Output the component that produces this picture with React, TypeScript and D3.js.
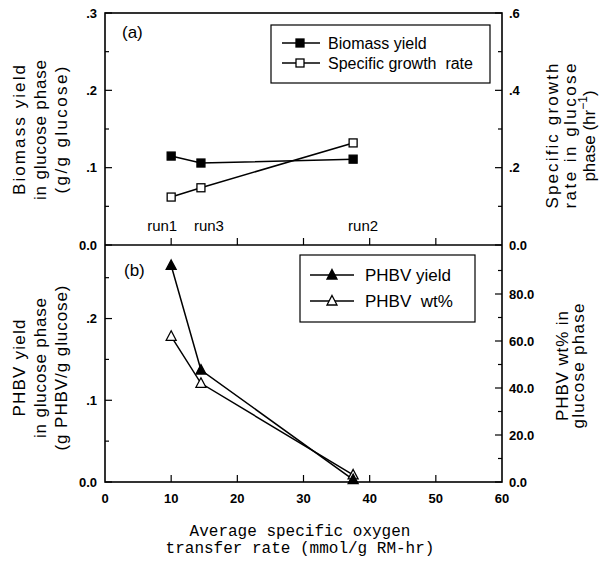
import * as d3 from 'd3'

const W = 609
const H = 563

// oxygen transfer rate of each run
const runs = ['run1', 'run3', 'run2']
const otr = [10, 14.5, 37.5]
const runLabelShift = [-9, 8, 10]

// panel (a)
const biomassYield = [0.115, 0.106, 0.111]
const growthRate = [0.124, 0.148, 0.264]

// panel (b)
const phbvYield = [0.265, 0.137, 0.003]
const phbvWt = [62, 42, 3]

const xTicks = [0, 10, 20, 30, 40, 50, 60]
const aLeftTicks = [0, 0.1, 0.2, 0.3]
const aLeftLabels = ['0.0', '.1', '.2', '.3']
const aRightTicks = [0, 0.2, 0.4, 0.6]
const aRightLabels = ['0.0', '.2', '.4', '.6']
const bLeftTicks = [0, 0.1, 0.2]
const bLeftLabels = ['0.0', '.1', '.2']
const bRightTicks = [0, 20, 40, 60, 80]
const bRightLabels = ['0.0', '20.0', '40.0', '60.0', '80.0']

const L = 105
const R = 502
const TOP = 13
const MID = 245
const BOT = 482

const x = d3.scaleLinear().domain([0, 60]).range([L, R])
const yAL = d3.scaleLinear().domain([0, 0.3]).range([MID, TOP])
const yAR = d3.scaleLinear().domain([0, 0.6]).range([MID, TOP])
const yBL = d3.scaleLinear().domain([0, 0.29]).range([BOT, MID])
const yBR = d3.scaleLinear().domain([0, 100]).range([BOT, MID + 2])

const tickFont = { fontFamily: 'Liberation Sans, Arial, sans-serif', fontSize: 13, fontWeight: 700 }
const titleFont = { fontFamily: 'Liberation Sans, Arial, sans-serif', fontSize: 17 }
const legendFont = { fontFamily: 'Liberation Sans, Arial, sans-serif', fontSize: 16 }

function Square({ cx, cy, filled }: { cx: number; cy: number; filled: boolean }) {
  return (
    <rect x={cx - 4} y={cy - 4} width={8} height={8} fill={filled ? '#000' : '#fff'} stroke="#000" strokeWidth={1.3} />
  )
}

function Triangle({ cx, cy, filled }: { cx: number; cy: number; filled: boolean }) {
  const p = `${cx},${cy - 5.5} ${cx + 5},${cy + 4} ${cx - 5},${cy + 4}`
  return <polygon points={p} fill={filled ? '#000' : '#fff'} stroke="#000" strokeWidth={1.3} />
}

function VTitle({ cx, cy, lines, lengths, dx }: { cx: number; cy: number; lines: string[]; lengths: number[]; dx: number }) {
  return (
    <g transform={`translate(${cx},${cy}) rotate(-90)`}>
      {lines.map((t, i) => (
        <text key={i} x={0} y={i * dx} textAnchor="middle" dominantBaseline="central" textLength={lengths[i]} lengthAdjust="spacing" style={titleFont}>
          {t}
        </text>
      ))}
    </g>
  )
}

export default function App() {
  const lineA1 = d3.line<number>().x((_, i) => x(otr[i])).y((d) => yAL(d))
  const lineA2 = d3.line<number>().x((_, i) => x(otr[i])).y((d) => yAR(d))
  const lineB1 = d3.line<number>().x((_, i) => x(otr[i])).y((d) => yBL(d))
  const lineB2 = d3.line<number>().x((_, i) => x(otr[i])).y((d) => yBR(d))

  const minor = (scale: d3.ScaleLinear<number, number>, vals: number[], side: 'l' | 'r', len: number) =>
    vals.map((v) => {
      const y = scale(v)
      const x0 = side === 'l' ? L : R
      const x1 = side === 'l' ? L + len : R - len
      return <line key={`${side}${v}${len}`} x1={x0} x2={x1} y1={y} y2={y} stroke="#000" strokeWidth={1.2} />
    })

  return (
    <svg width={W} height={H} style={{ position: 'absolute', left: 0, top: 0, background: '#fff' }}>
      <rect x={0} y={0} width={W} height={H} fill="#fff" />
      {/* frames */}
      <rect x={L} y={TOP} width={R - L} height={BOT - TOP} fill="none" stroke="#000" strokeWidth={1.6} />
      <line x1={L} x2={R} y1={MID} y2={MID} stroke="#000" strokeWidth={1.6} />

      {/* x ticks, on the shared axis and the bottom */}
      {xTicks.slice(1, -1).map((t) => (
        <g key={t}>
          <line x1={x(t)} x2={x(t)} y1={MID} y2={MID - 7} stroke="#000" strokeWidth={1.2} />
          <line x1={x(t)} x2={x(t)} y1={BOT} y2={BOT - 7} stroke="#000" strokeWidth={1.2} />
        </g>
      ))}
      {xTicks.map((t) => (
        <text key={t} x={x(t)} y={503} textAnchor="middle" style={tickFont}>
          {t}
        </text>
      ))}

      {/* panel (a) axes */}
      {minor(yAL, aLeftTicks, 'l', 7)}
      {minor(yAL, [0.05, 0.15, 0.25], 'l', 4)}
      {aLeftTicks.map((t, i) => (
        <text key={t} x={97} y={yAL(t)} dy="0.35em" textAnchor="end" style={tickFont}>
          {aLeftLabels[i]}
        </text>
      ))}
      {minor(yAR, aRightTicks, 'r', 7)}
      {minor(yAR, [0.1, 0.3, 0.5], 'r', 4)}
      {aRightTicks.map((t, i) => (
        <text key={t} x={509} y={yAR(t)} dy="0.35em" textAnchor="start" style={tickFont}>
          {aRightLabels[i]}
        </text>
      ))}

      {/* panel (b) axes */}
      {minor(yBL, bLeftTicks, 'l', 7)}
      {minor(yBL, [0.05, 0.15, 0.25], 'l', 4)}
      {bLeftTicks.map((t, i) => (
        <text key={t} x={97} y={yBL(t)} dy="0.35em" textAnchor="end" style={tickFont}>
          {bLeftLabels[i]}
        </text>
      ))}
      {minor(yBR, bRightTicks, 'r', 7)}
      {minor(yBR, [10, 30, 50, 70, 90], 'r', 4)}
      {bRightTicks.map((t, i) => (
        <text key={t} x={509} y={yBR(t)} dy="0.35em" textAnchor="start" style={tickFont}>
          {bRightLabels[i]}
        </text>
      ))}

      {/* panel (a) data */}
      <path d={lineA1(biomassYield) || ''} fill="none" stroke="#000" strokeWidth={1.5} />
      <path d={lineA2(growthRate) || ''} fill="none" stroke="#000" strokeWidth={1.5} />
      {biomassYield.map((v, i) => (
        <Square key={`b${i}`} cx={x(otr[i])} cy={yAL(v)} filled />
      ))}
      {growthRate.map((v, i) => (
        <Square key={`g${i}`} cx={x(otr[i])} cy={yAR(v)} filled={false} />
      ))}
      {runs.map((r, i) => (
        <text key={r} x={x(otr[i]) + runLabelShift[i]} y={231} textAnchor="middle" style={{ ...legendFont, fontSize: 15 }}>
          {r}
        </text>
      ))}
      <text x={122} y={38} style={{ ...legendFont, fontSize: 17 }}>(a)</text>

      {/* panel (a) legend */}
      <rect x={271} y={25} width={219} height={58} fill="#fff" stroke="#000" strokeWidth={1.2} />
      <line x1={282} x2={320} y1={43} y2={43} stroke="#000" strokeWidth={1.5} />
      <Square cx={300} cy={43} filled />
      <text x={328} y={43} dy="0.35em" style={legendFont}>Biomass yield</text>
      <line x1={282} x2={320} y1={63} y2={63} stroke="#000" strokeWidth={1.5} />
      <Square cx={300} cy={63} filled={false} />
      <text x={328} y={63} dy="0.35em" style={legendFont} xmlSpace="preserve">Specific growth  rate</text>

      {/* panel (b) data */}
      <path d={lineB1(phbvYield) || ''} fill="none" stroke="#000" strokeWidth={1.5} />
      <path d={lineB2(phbvWt) || ''} fill="none" stroke="#000" strokeWidth={1.5} />
      {phbvWt.map((v, i) => (
        <Triangle key={`w${i}`} cx={x(otr[i])} cy={yBR(v)} filled={false} />
      ))}
      {phbvYield.map((v, i) => (
        <Triangle key={`y${i}`} cx={x(otr[i])} cy={yBL(v)} filled />
      ))}
      <text x={124} y={276} style={{ ...legendFont, fontSize: 17 }}>(b)</text>

      {/* panel (b) legend */}
      <rect x={300} y={255} width={175} height={67} fill="#fff" stroke="#000" strokeWidth={1.2} />
      <line x1={310} x2={354} y1={275} y2={275} stroke="#000" strokeWidth={1.5} />
      <Triangle cx={332} cy={275} filled />
      <text x={365} y={275} dy="0.35em" style={{ ...legendFont, fontSize: 17 }}>PHBV yield</text>
      <line x1={310} x2={354} y1={301} y2={301} stroke="#000" strokeWidth={1.5} />
      <Triangle cx={332} cy={301} filled={false} />
      <text x={365} y={301} dy="0.35em" style={{ ...legendFont, fontSize: 17 }} xmlSpace="preserve">PHBV  wt%</text>

      {/* axis titles */}
      <VTitle cx={19} cy={130} dx={21} lines={['Biomass yield', 'in glucose phase', '(g/g glucose)']} lengths={[130, 140, 127]} />
      <VTitle cx={19} cy={368} dx={21} lines={['PHBV yield', 'in glucose phase', '(g PHBV/g glucose)']} lengths={[97, 140, 165]} />
      <g transform={`translate(552,136) rotate(-90)`}>
        <text x={0} y={0} textAnchor="middle" dominantBaseline="central" textLength={145} lengthAdjust="spacing" style={titleFont}>Specific growth</text>
        <text x={0} y={18} textAnchor="middle" dominantBaseline="central" textLength={145} lengthAdjust="spacing" style={titleFont}>rate in glucose</text>
        <text x={0} y={37} textAnchor="middle" dominantBaseline="central" style={titleFont}>
          phase  (hr<tspan dy={-6} fontSize={12}>−1</tspan><tspan dy={6}>)</tspan>
        </text>
      </g>
      <VTitle cx={562} cy={366} dx={16} lines={['PHBV wt% in', 'glucose phase']} lengths={[110, 125]} />
      <text x={300} y={536} textAnchor="middle" style={{ fontFamily: 'Liberation Mono, monospace', fontSize: 16 }}>
        Average specific oxygen
      </text>
      <text x={300} y={553} textAnchor="middle" style={{ fontFamily: 'Liberation Mono, monospace', fontSize: 16 }}>
        transfer rate (mmol/g RM-hr)
      </text>
    </svg>
  )
}
